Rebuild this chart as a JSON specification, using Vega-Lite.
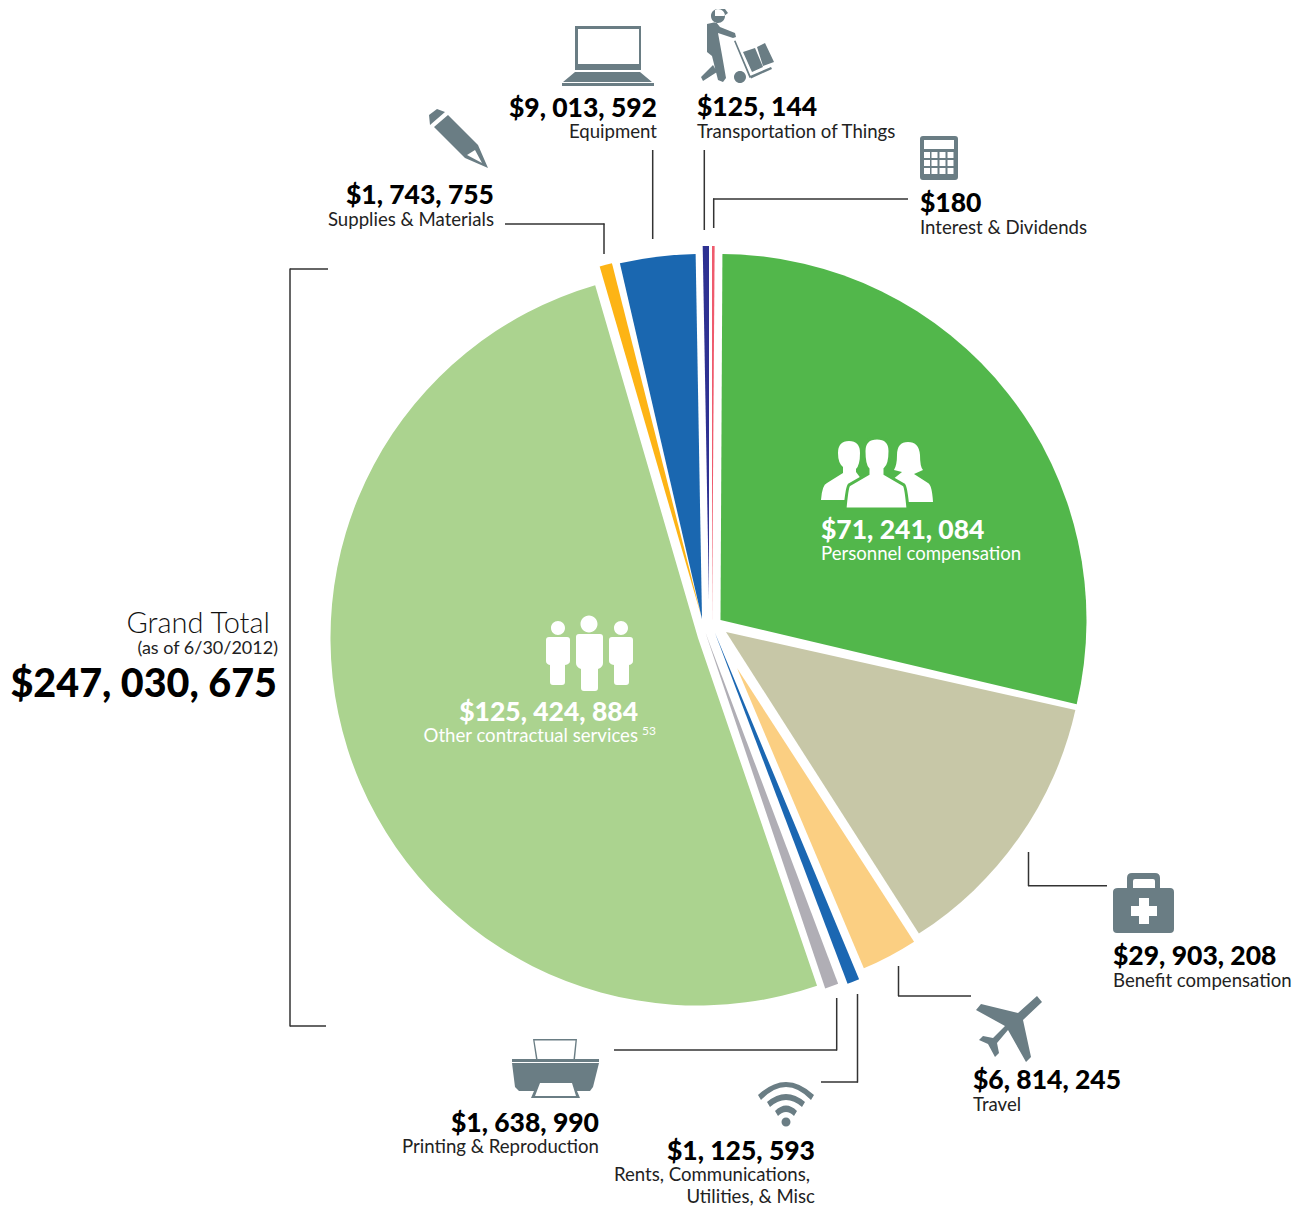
{"$schema":"https://vega.github.io/schema/vega-lite/v6.json","width":1299,"height":1209,"padding":0,"autosize":{"type":"none"},"background":"white","view":{"stroke":null},"config":{"axis":{"disable":true},"text":{"font":"Lato","baseline":"alphabetic"}},
"data":{"values":[
{"category":"Personnel compensation","amount":71241084,"amount_label":"$71, 241, 084","from_deg":0.3,"to_deg":103.3},
{"category":"Benefit compensation","amount":29903208,"amount_label":"$29, 903, 208","from_deg":102.6,"to_deg":147.4},
{"category":"Travel","amount":6814245,"amount_label":"$6, 814, 245","from_deg":147.1,"to_deg":157.1},
{"category":"Rents, Communications, Utilities, & Misc","amount":1125593,"amount_label":"$1, 125, 593","line1":"Rents, Communications,","line2":"Utilities, & Misc","from_deg":157.4,"to_deg":159.3},
{"category":"Printing & Reproduction","amount":1638990,"amount_label":"$1, 638, 990","from_deg":159.3,"to_deg":161.4},
{"category":"Other contractual services","amount":125424884,"amount_label":"$125, 424, 884","from_deg":161.1,"to_deg":343.75,"note":"53"},
{"category":"Supplies & Materials","amount":1743755,"amount_label":"$1, 743, 755","from_deg":343.8,"to_deg":345.8},
{"category":"Equipment","amount":9013592,"amount_label":"$9, 013, 592","from_deg":347,"to_deg":359},
{"category":"Transportation of Things","amount":125144,"amount_label":"$125, 144","from_deg":358.98,"to_deg":360},
{"category":"Interest & Dividends","amount":180,"amount_label":"$180","from_deg":0,"to_deg":0.4}
]},
"layer":[
{"transform":[{"filter":"datum.category==='Personnel compensation'"}],"layer":[
{"mark":{"type":"arc","radius":366,"fill":"#52b74b"},"encoding":{"x":{"datum":720.5,"type":"quantitative","scale":{"domain":[0,1299],"range":[0,1299],"nice":false,"zero":false}},"y":{"datum":620,"type":"quantitative","scale":{"domain":[0,1209],"range":[0,1209],"nice":false,"zero":false}},"theta":{"field":"from_deg","type":"quantitative","scale":{"domain":[0,360]}},"theta2":{"field":"to_deg"}}},
{"mark":{"type":"point","filled":true,"opacity":1,"fill":"white","size":4,"shape":"M-39,-22 Q-39,-34 -28,-34 Q-17,-34 -17,-22 Q-17,-10 -21,-6 V-3 L-15,5 L-25,25 H-56 Q-55,10 -50,8 L-34,-2 V-8 Q-39,-12 -39,-22Z M20,-20 Q20,-33 31,-33 Q42,-33 43,-20 Q43,-8 46,-5 L37,-1 L51,8 Q55,10 56,27 H20 L15,5 L25,-3 L17,-5 Q20,-10 20,-20Z"},"encoding":{"x":{"datum":877,"type":"quantitative"},"y":{"datum":475,"type":"quantitative"}}},
{"mark":{"type":"point","filled":true,"opacity":1,"fill":"white","stroke":"#52b74b","strokeWidth":3,"size":4,"shape":"M-13,-24 Q-13,-37 0,-37 Q13,-37 13,-24 Q13,-10 8,-6 V-1 L27,10 Q29,12 31,34 H-32 Q-30,12 -28,10 L-9,-1 V-6 Q-13,-10 -13,-24Z"},"encoding":{"x":{"datum":877,"type":"quantitative"},"y":{"datum":475,"type":"quantitative"}}},
{"mark":{"type":"text","align":"left","baseline":"alphabetic","fontWeight":900,"fontSize":26.5,"fill":"white"},"encoding":{"x":{"datum":821,"type":"quantitative"},"y":{"datum":539,"type":"quantitative"},"text":{"field":"amount_label"}}},
{"mark":{"type":"text","align":"left","baseline":"alphabetic","fontSize":18.6,"fill":"white"},"encoding":{"x":{"datum":821,"type":"quantitative"},"y":{"datum":560,"type":"quantitative"},"text":{"field":"category"}}}
]},
{"transform":[{"filter":"datum.category==='Benefit compensation'"}],"layer":[
{"mark":{"type":"arc","radius":358,"fill":"#c7c7a7"},"encoding":{"x":{"datum":726,"type":"quantitative"},"y":{"datum":632,"type":"quantitative"},"theta":{"field":"from_deg","type":"quantitative"},"theta2":{"field":"to_deg"}}},
{"mark":{"type":"rule","color":"#333333","strokeWidth":1.5},"encoding":{"x":{"datum":1028.5,"type":"quantitative"},"y":{"datum":852,"type":"quantitative"},"y2":{"datum":886}}},
{"mark":{"type":"rule","color":"#333333","strokeWidth":1.5},"encoding":{"y":{"datum":885.7,"type":"quantitative"},"x":{"datum":1028,"type":"quantitative"},"x2":{"datum":1107}}},
{"mark":{"type":"point","filled":true,"opacity":1,"fill":"#6a7d84","size":4,"shape":"M-26,-15 H-17 V-25 Q-17,-30 -12,-30 H11 Q16,-30 16,-25 V-15 H26 Q30,-15 30,-11 V26 Q30,30 26,30 H-27 Q-31,30 -31,26 V-11 Q-31,-15 -26,-15Z M-11,-15 H11 V-22 Q11,-24 9,-24 H-9 Q-11,-24 -11,-22Z M-5,-5 V3 H-13 V13 H-5 V21 H5 V13 H13 V3 H5 V-5Z"},"encoding":{"x":{"datum":1144,"type":"quantitative"},"y":{"datum":903,"type":"quantitative"}}},
{"mark":{"type":"text","align":"left","baseline":"alphabetic","fontWeight":900,"fontSize":26.5,"fill":"black"},"encoding":{"x":{"datum":1113,"type":"quantitative"},"y":{"datum":965,"type":"quantitative"},"text":{"field":"amount_label"}}},
{"mark":{"type":"text","align":"left","baseline":"alphabetic","fontSize":18.6,"fill":"#222222"},"encoding":{"x":{"datum":1113,"type":"quantitative"},"y":{"datum":987,"type":"quantitative"},"text":{"field":"category"}}}
]},
{"transform":[{"filter":"datum.category==='Travel'"}],"layer":[
{"mark":{"type":"arc","radius":326,"fill":"#fbcf82"},"encoding":{"x":{"datum":737,"type":"quantitative"},"y":{"datum":668,"type":"quantitative"},"theta":{"field":"from_deg","type":"quantitative"},"theta2":{"field":"to_deg"}}},
{"mark":{"type":"rule","color":"#333333","strokeWidth":1.5},"encoding":{"x":{"datum":898.5,"type":"quantitative"},"y":{"datum":966,"type":"quantitative"},"y2":{"datum":996}}},
{"mark":{"type":"rule","color":"#333333","strokeWidth":1.5},"encoding":{"y":{"datum":996,"type":"quantitative"},"x":{"datum":898,"type":"quantitative"},"x2":{"datum":971}}},
{"mark":{"type":"point","filled":true,"opacity":1,"fill":"#6a7d84","size":4,"shape":"M27,-32 L32,-26 L13,-8 L21,29 L16,34 L-2,2 L-13,15 L-11,25 L-15,29 L-22,16 L-31,12 L-27,8 L-17,10 L-5,-2 L-34,-18 L-29,-24 L8,-15Z"},"encoding":{"x":{"datum":1010,"type":"quantitative"},"y":{"datum":1028,"type":"quantitative"}}},
{"mark":{"type":"text","align":"left","baseline":"alphabetic","fontWeight":900,"fontSize":26.5,"fill":"black"},"encoding":{"x":{"datum":973,"type":"quantitative"},"y":{"datum":1089,"type":"quantitative"},"text":{"field":"amount_label"}}},
{"mark":{"type":"text","align":"left","baseline":"alphabetic","fontSize":18.6,"fill":"#222222"},"encoding":{"x":{"datum":973,"type":"quantitative"},"y":{"datum":1111,"type":"quantitative"},"text":{"field":"category"}}}
]},
{"transform":[{"filter":"datum.line1==='Rents, Communications,'"}],"layer":[
{"mark":{"type":"arc","radius":375,"fill":"#1b67b2"},"encoding":{"x":{"datum":715,"type":"quantitative"},"y":{"datum":633,"type":"quantitative"},"theta":{"field":"from_deg","type":"quantitative"},"theta2":{"field":"to_deg"}}},
{"mark":{"type":"rule","color":"#333333","strokeWidth":1.5},"encoding":{"x":{"datum":857.5,"type":"quantitative"},"y":{"datum":994,"type":"quantitative"},"y2":{"datum":1082.5}}},
{"mark":{"type":"rule","color":"#333333","strokeWidth":1.5},"encoding":{"y":{"datum":1082,"type":"quantitative"},"x":{"datum":821,"type":"quantitative"},"x2":{"datum":858}}},
{"mark":{"type":"point","filled":true,"opacity":1,"fill":"#6a7d84","size":4,"shape":"M-28,-10 Q0,-36 28,-10 L25,-5 Q0,-31 -25,-5Z M-19,-3 Q0,-19 19,-3 L16,2 Q0,-12 -16,2Z M-11,6 Q0,-5 11,6 L8,11 Q0,3 -8,11Z M-4.5,17 a4.5,4.5 0 1 0 9,0 a4.5,4.5 0 1 0 -9,0Z"},"encoding":{"x":{"datum":786,"type":"quantitative"},"y":{"datum":1105,"type":"quantitative"}}},
{"mark":{"type":"text","align":"right","baseline":"alphabetic","fontWeight":900,"fontSize":26.5,"fill":"black"},"encoding":{"x":{"datum":815,"type":"quantitative"},"y":{"datum":1160,"type":"quantitative"},"text":{"field":"amount_label"}}},
{"mark":{"type":"text","align":"right","baseline":"alphabetic","fontSize":18.6,"fill":"#222222"},"encoding":{"x":{"datum":810,"type":"quantitative"},"y":{"datum":1181,"type":"quantitative"},"text":{"field":"line1"}}},
{"mark":{"type":"text","align":"right","baseline":"alphabetic","fontSize":18.6,"fill":"#222222"},"encoding":{"x":{"datum":815,"type":"quantitative"},"y":{"datum":1203,"type":"quantitative"},"text":{"field":"line2"}}}
]},
{"transform":[{"filter":"datum.category==='Printing & Reproduction'"}],"layer":[
{"mark":{"type":"arc","radius":375,"fill":"#b0aeb5"},"encoding":{"x":{"datum":705.6,"type":"quantitative"},"y":{"datum":633,"type":"quantitative"},"theta":{"field":"from_deg","type":"quantitative"},"theta2":{"field":"to_deg"}}},
{"mark":{"type":"rule","color":"#333333","strokeWidth":1.5},"encoding":{"x":{"datum":836.7,"type":"quantitative"},"y":{"datum":998,"type":"quantitative"},"y2":{"datum":1050.5}}},
{"mark":{"type":"rule","color":"#333333","strokeWidth":1.5},"encoding":{"y":{"datum":1050,"type":"quantitative"},"x":{"datum":614,"type":"quantitative"},"x2":{"datum":837}}},
{"mark":{"type":"point","filled":true,"opacity":1,"fill":"#6a7d84","size":4,"shape":"M-22,-31 L22,-31 L20,-11 L-19,-11Z M-20.5,-29.5 L-17.5,-11 L18.5,-11 L20.5,-29.5Z M-43,-11 H44 V-8 H-43Z M-43,-7 L44,-7 L38,17 L35,21 L22,21 L25,28 L-24,28 L-21,21 L-36,21 L-40,17Z M-15,13 L-20,26 L21,26 L17,13Z"},"encoding":{"x":{"datum":555,"type":"quantitative"},"y":{"datum":1070,"type":"quantitative"}}},
{"mark":{"type":"text","align":"right","baseline":"alphabetic","fontWeight":900,"fontSize":26.5,"fill":"black"},"encoding":{"x":{"datum":599,"type":"quantitative"},"y":{"datum":1132,"type":"quantitative"},"text":{"field":"amount_label"}}},
{"mark":{"type":"text","align":"right","baseline":"alphabetic","fontSize":18.6,"fill":"#222222"},"encoding":{"x":{"datum":599,"type":"quantitative"},"y":{"datum":1153,"type":"quantitative"},"text":{"field":"category"}}}
]},
{"transform":[{"filter":"datum.category==='Other contractual services'"}],"layer":[
{"mark":{"type":"arc","radius":367.5,"fill":"#abd38f"},"encoding":{"x":{"datum":698,"type":"quantitative"},"y":{"datum":638,"type":"quantitative"},"theta":{"field":"from_deg","type":"quantitative"},"theta2":{"field":"to_deg"}}},
{"mark":{"type":"point","filled":true,"opacity":1,"fill":"white","size":4,"shape":"M-9.5,-31 a8.5,8.5 0 1 0 17,0 a8.5,8.5 0 1 0 -17,0Z M-11,-21 H10 Q13,-21 13,-18 V8 Q13,12 8,14 V33 Q8,36 5,36 H-6 Q-9,36 -9,33 V14 Q-14,12 -14,8 V-18 Q-14,-21 -11,-21Z M-39,-27 a7,7 0 1 0 14,0 a7,7 0 1 0 -14,0Z M-41,-18 H-23 Q-20,-18 -20,-15 V6 Q-20,9 -25,10 V27 Q-25,30 -28,30 H-37 Q-40,30 -40,27 V10 Q-44,9 -44,6 V-15 Q-44,-18 -41,-18Z M24,-27 a7,7 0 1 0 14,0 a7,7 0 1 0 -14,0Z M22,-18 H40 Q43,-18 43,-15 V6 Q43,9 39,10 V27 Q39,30 36,30 H27 Q24,30 24,27 V10 Q19,9 19,6 V-15 Q19,-18 22,-18Z"},"encoding":{"x":{"datum":590,"type":"quantitative"},"y":{"datum":655,"type":"quantitative"}}},
{"mark":{"type":"text","align":"right","baseline":"alphabetic","fontWeight":900,"fontSize":26.5,"fill":"white"},"encoding":{"x":{"datum":638,"type":"quantitative"},"y":{"datum":721,"type":"quantitative"},"text":{"field":"amount_label"}}},
{"mark":{"type":"text","align":"right","baseline":"alphabetic","fontSize":18.6,"fill":"white"},"encoding":{"x":{"datum":638,"type":"quantitative"},"y":{"datum":742,"type":"quantitative"},"text":{"field":"category"}}},
{"mark":{"type":"text","align":"left","baseline":"alphabetic","fontSize":12,"fill":"white"},"encoding":{"x":{"datum":642,"type":"quantitative"},"y":{"datum":735,"type":"quantitative"},"text":{"field":"note"}}}
]},
{"transform":[{"filter":"datum.category==='Supplies & Materials'"}],"layer":[
{"mark":{"type":"arc","radius":365,"fill":"#fdb415"},"encoding":{"x":{"datum":701.5,"type":"quantitative"},"y":{"datum":617,"type":"quantitative"},"theta":{"field":"from_deg","type":"quantitative"},"theta2":{"field":"to_deg"}}},
{"mark":{"type":"rule","color":"#333333","strokeWidth":1.5},"encoding":{"x":{"datum":604,"type":"quantitative"},"y":{"datum":223.5,"type":"quantitative"},"y2":{"datum":254}}},
{"mark":{"type":"rule","color":"#333333","strokeWidth":1.5},"encoding":{"y":{"datum":224,"type":"quantitative"},"x":{"datum":505,"type":"quantitative"},"x2":{"datum":604.5}}},
{"mark":{"type":"point","filled":true,"opacity":1,"fill":"#6a7d84","size":4,"shape":"M-28,-13 L-29,-23 L-21,-29 L-13,-26Z M-10,-23 L20,7 L30,30 L7,20 L-24,-11Z M9,17 L24,25 L17,12Z"},"encoding":{"x":{"datum":458,"type":"quantitative"},"y":{"datum":138,"type":"quantitative"}}},
{"mark":{"type":"text","align":"right","baseline":"alphabetic","fontWeight":900,"fontSize":26.5,"fill":"black"},"encoding":{"x":{"datum":494,"type":"quantitative"},"y":{"datum":204,"type":"quantitative"},"text":{"field":"amount_label"}}},
{"mark":{"type":"text","align":"right","baseline":"alphabetic","fontSize":18.6,"fill":"#222222"},"encoding":{"x":{"datum":494,"type":"quantitative"},"y":{"datum":226,"type":"quantitative"},"text":{"field":"category"}}}
]},
{"transform":[{"filter":"datum.category==='Equipment'"}],"layer":[
{"mark":{"type":"arc","radius":365,"fill":"#1a67b0"},"encoding":{"x":{"datum":702,"type":"quantitative"},"y":{"datum":619,"type":"quantitative"},"theta":{"field":"from_deg","type":"quantitative"},"theta2":{"field":"to_deg"}}},
{"mark":{"type":"rule","color":"#333333","strokeWidth":1.5},"encoding":{"x":{"datum":652.7,"type":"quantitative"},"y":{"datum":150,"type":"quantitative"},"y2":{"datum":239}}},
{"mark":{"type":"point","filled":true,"opacity":1,"fill":"#6a7d84","size":4,"shape":"M-33,-30 H33 V14 H-33Z M-30,-27 V8 H31 V-27Z M-33,16 H32 L44,26 H-45Z M-46,27 H46 V30 H-46Z"},"encoding":{"x":{"datum":608,"type":"quantitative"},"y":{"datum":56,"type":"quantitative"}}},
{"mark":{"type":"text","align":"right","baseline":"alphabetic","fontWeight":900,"fontSize":26.5,"fill":"black"},"encoding":{"x":{"datum":657,"type":"quantitative"},"y":{"datum":117,"type":"quantitative"},"text":{"field":"amount_label"}}},
{"mark":{"type":"text","align":"right","baseline":"alphabetic","fontSize":18.6,"fill":"#222222"},"encoding":{"x":{"datum":657,"type":"quantitative"},"y":{"datum":138,"type":"quantitative"},"text":{"field":"category"}}}
]},
{"transform":[{"filter":"datum.category==='Transportation of Things'"}],"layer":[
{"mark":{"type":"arc","radius":354,"fill":"#2e3192"},"encoding":{"x":{"datum":709,"type":"quantitative"},"y":{"datum":600,"type":"quantitative"},"theta":{"field":"from_deg","type":"quantitative"},"theta2":{"field":"to_deg"}}},
{"mark":{"type":"rule","color":"#333333","strokeWidth":1.5},"encoding":{"x":{"datum":704.3,"type":"quantitative"},"y":{"datum":150,"type":"quantitative"},"y2":{"datum":230}}},
{"mark":{"type":"point","filled":true,"opacity":1,"fill":"#6a7d84","size":4,"shape":"M-26,-29 a7,7 0 1 0 14,0 a7,7 0 1 0 -14,0Z M-22,-36 L-12,-36 L-9,-32 L-13,-29 L-22,-29Z M-30,-21 L-21,-23 L-17,-18 L-2,-12 L-1,-8 L-4,-7 L-19,-12 L-15,10 L-11,33 L-14,37 L-19,35 L-25,11 L-30,7Z M-24,20 L-20,27 L-34,36 L-36,32Z M-3,32 a6,6 0 1 0 12,0 a6,6 0 1 0 -12,0Z M-3,-4 L-1.5,-4.5 L14,32 L12.5,33Z M13,31 L34,22 L35,24 L14,33.5Z M6,7 L18,3 L26,22 L15,27Z M20,2 L28,-2 L37,17 L26,21Z"},"encoding":{"x":{"datum":737,"type":"quantitative"},"y":{"datum":45,"type":"quantitative"}}},
{"mark":{"type":"text","align":"left","baseline":"alphabetic","fontWeight":900,"fontSize":26.5,"fill":"black"},"encoding":{"x":{"datum":697,"type":"quantitative"},"y":{"datum":116,"type":"quantitative"},"text":{"field":"amount_label"}}},
{"mark":{"type":"text","align":"left","baseline":"alphabetic","fontSize":18.6,"fill":"#222222"},"encoding":{"x":{"datum":697,"type":"quantitative"},"y":{"datum":138,"type":"quantitative"},"text":{"field":"category"}}}
]},
{"transform":[{"filter":"datum.category==='Interest & Dividends'"}],"layer":[
{"mark":{"type":"arc","radius":379,"fill":"#ef5b6d"},"encoding":{"x":{"datum":712,"type":"quantitative"},"y":{"datum":625,"type":"quantitative"},"theta":{"field":"from_deg","type":"quantitative"},"theta2":{"field":"to_deg"}}},
{"mark":{"type":"rule","color":"#333333","strokeWidth":1.5},"encoding":{"x":{"datum":713.7,"type":"quantitative"},"y":{"datum":198.5,"type":"quantitative"},"y2":{"datum":228}}},
{"mark":{"type":"rule","color":"#333333","strokeWidth":1.5},"encoding":{"y":{"datum":199,"type":"quantitative"},"x":{"datum":713,"type":"quantitative"},"x2":{"datum":908}}},
{"mark":{"type":"point","filled":true,"opacity":1,"fill":"#6a7d84","size":4,"shape":"M-16,-22 H16 Q19,-22 19,-19 V19 Q19,22 16,22 H-16 Q-19,22 -19,19 V-19 Q-19,-22 -16,-22Z M-15,-18 V-9 H15 V-18Z M-15,-6 v6 h6 v-6z M-7.5,-6 v6 h6 v-6z M0.5,-6 v6 h6 v-6z M8.5,-6 v6 h6 v-6z M-15,2 v6 h6 v-6z M-7.5,2 v6 h6 v-6z M0.5,2 v6 h6 v-6z M8.5,2 v6 h6 v-6z M-15,10 v6 h6 v-6z M-7.5,10 v6 h6 v-6z M0.5,10 v6 h6 v-6z M8.5,10 v6 h6 v-6z"},"encoding":{"x":{"datum":939,"type":"quantitative"},"y":{"datum":158,"type":"quantitative"}}},
{"mark":{"type":"text","align":"left","baseline":"alphabetic","fontWeight":900,"fontSize":26.5,"fill":"black"},"encoding":{"x":{"datum":920,"type":"quantitative"},"y":{"datum":212,"type":"quantitative"},"text":{"field":"amount_label"}}},
{"mark":{"type":"text","align":"left","baseline":"alphabetic","fontSize":18.6,"fill":"#222222"},"encoding":{"x":{"datum":920,"type":"quantitative"},"y":{"datum":234,"type":"quantitative"},"text":{"field":"category"}}}
]},
{"data":{"values":[{"title":"Grand Total","as_of":"(as of 6/30/2012)","total_label":"$247, 030, 675","total":247030675}]},"layer":[
{"mark":{"type":"rule","color":"#333333","strokeWidth":1.5},"encoding":{"x":{"datum":290,"type":"quantitative"},"y":{"datum":268.5,"type":"quantitative"},"y2":{"datum":1026.5}}},
{"mark":{"type":"rule","color":"#333333","strokeWidth":1.5},"encoding":{"y":{"datum":269,"type":"quantitative"},"x":{"datum":290,"type":"quantitative"},"x2":{"datum":328}}},
{"mark":{"type":"rule","color":"#333333","strokeWidth":1.5},"encoding":{"y":{"datum":1026,"type":"quantitative"},"x":{"datum":290,"type":"quantitative"},"x2":{"datum":326}}},
{"mark":{"type":"text","align":"right","baseline":"alphabetic","fontSize":29,"fontWeight":300,"fill":"#111111"},"encoding":{"x":{"datum":270,"type":"quantitative"},"y":{"datum":633,"type":"quantitative"},"text":{"field":"title"}}},
{"mark":{"type":"text","align":"right","baseline":"alphabetic","fontSize":18,"fill":"#222222"},"encoding":{"x":{"datum":278,"type":"quantitative"},"y":{"datum":654,"type":"quantitative"},"text":{"field":"as_of"}}},
{"mark":{"type":"text","align":"right","baseline":"alphabetic","fontSize":39.5,"fontWeight":900,"fill":"black"},"encoding":{"x":{"datum":277,"type":"quantitative"},"y":{"datum":697,"type":"quantitative"},"text":{"field":"total_label"}}}
]}
]}
